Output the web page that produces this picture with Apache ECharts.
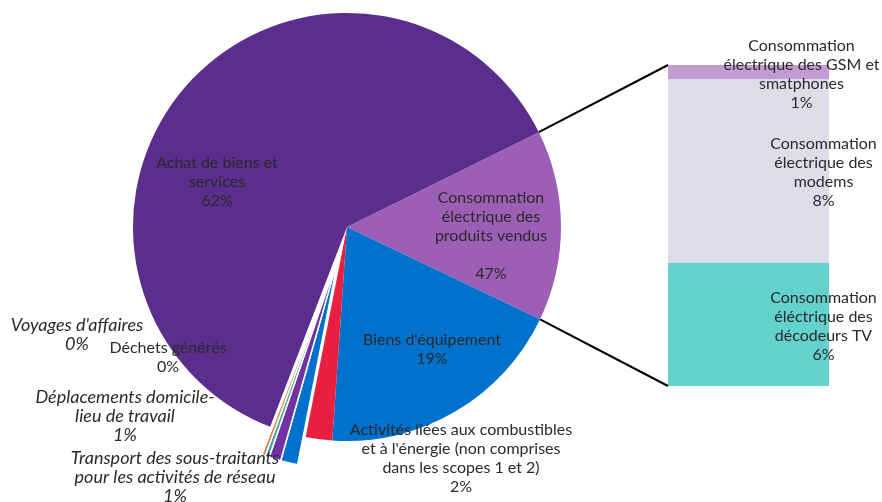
<!DOCTYPE html>
<html><head><meta charset="utf-8">
<script src="https://cdn.jsdelivr.net/npm/echarts@6/dist/echarts.min.js"></script>
<style>html,body{margin:0;padding:0;background:#fff}#c{width:882px;height:502px}</style>
</head><body><div id="c"></div>
<script>
// ---- data ----
const pieNames = [
  'Consommation électrique des produits vendus',
  "Biens d'équipement",
  "Activités liées aux combustibles et à l'énergie",
  'Transport des sous-traitants pour les activités de réseau',
  'Déplacements domicile-lieu de travail',
  'Déchets générés',
  "Voyages d'affaires",
  'Achat de biens et services'
];
const pieValues = [14.4, 19.0, 2.0, 1.3, 0.9, 0.3, 0.25, 61.85];
const pieLabels = [
  'Consommation\nélectrique des\nproduits vendus\n\n47%',
  "Biens d'équipement\n19%",
  "Activités liées aux combustibles\net à l'énergie (non comprises\ndans les scopes 1 et 2)\n2%",
  'Transport des sous-traitants\npour les activités de réseau\n1%',
  'Déplacements domicile-\nlieu de travail\n1%',
  'Déchets générés\n0%',
  "Voyages d'affaires\n0%",
  'Achat de biens et\nservices\n62%'
];
const pieItalic = [false, false, false, true, true, false, true, false];
const pieExploded = [false, false, false, true, true, true, true, false];

const barNames = ['Consommation électrique des décodeurs TV', 'Consommation électrique des modems', 'Consommation électrique des GSM et smatphones'];
const barValues = [5.75, 8.6, 0.65];
const barLabels = [
  'Consommation\néléctrique des\ndécodeurs TV\n6%',
  'Consommation\nélectrique des\nmodems\n8%',
  'Consommation\nélectrique des GSM et\nsmatphones\n1%'
];

// ---- style / layout ----
const pieColors = ['#9c5fb5', '#0072ce', '#e81f3f', '#0072ce', '#7232a3', '#3fa3ae', '#e07d36', '#5b2d8c'];
const barColors = ['#64d2cc', '#dfdcea', '#c39bd3'];
const labelPos = [[491, 236], [432, 349], [461, 458], [175, 477], [125, 416], [168, 357], [77, 335], [217, 182]];
const barLabelOffset = [[75, 2], [75, 1], [53, 2]];
const CX = 347, CY = 227, R = 214, START = 26.3, EXPLODE = 29;
const GRID = {left: 668, top: 65, width: 161, height: 321};
const FONT = 'Lato';
const TXT = '#2a2a2a';
const FS = 16, FS_IT = 18, LH = 19;
const NONE = 'rgba(0,0,0,0)';

const chart = echarts.init(document.getElementById('c'), null, {renderer: 'canvas'});
const barTotal = barValues.reduce((a, b) => a + b, 0);
const total = pieValues.reduce((a, b) => a + b, 0);

// direction of the exploded group (mid angle of the exploded slices)
let acc = 0, lo = null, hi = null;
pieValues.forEach((v, i) => {
  const s = acc, e = acc + v; acc = e;
  if (pieExploded[i]) { if (lo === null) lo = s; hi = e; }
});
const midDeg = START - ((lo + hi) / 2) / total * 360;
const mid = midDeg * Math.PI / 180;
const CX2 = CX + EXPLODE * Math.cos(mid), CY2 = CY - EXPLODE * Math.sin(mid);

const mainData = pieNames.map((n, i) => ({
  name: n,
  value: pieValues[i],
  itemStyle: {color: pieExploded[i] ? NONE : pieColors[i]},
  label: pieItalic[i]
    ? {formatter: pieLabels[i], fontStyle: 'italic', fontSize: FS_IT}
    : {formatter: pieLabels[i]}
}));
const explodedData = pieNames.map((n, i) => ({
  name: n,
  value: pieValues[i],
  itemStyle: pieExploded[i] ? {color: pieColors[i], borderColor: '#fff', borderWidth: 1.5} : {color: NONE}
}));

const barSeries = barNames.map((n, i) => ({
  type: 'bar',
  name: n,
  stack: 'c',
  barWidth: '100%',
  data: [barValues[i]],
  itemStyle: {color: barColors[i]},
  silent: true,
  label: {
    show: true, position: 'inside', formatter: barLabels[i],
    offset: barLabelOffset[i], color: TXT, fontFamily: FONT, fontSize: FS, lineHeight: LH, align: 'center'
  }
}));

chart.setOption({
  animation: false,
  grid: Object.assign({}, GRID),
  xAxis: {type: 'category', data: [''], show: false},
  yAxis: {type: 'value', min: 0, max: barTotal, show: false},
  series: [{
    type: 'pie',
    center: [CX2, CY2],
    radius: R,
    startAngle: START,
    clockwise: true,
    silent: true,
    z: 1,
    emphasis: {disabled: true},
    label: {show: false},
    labelLine: {show: false},
    data: explodedData
  }, {
    type: 'pie',
    center: [CX, CY],
    radius: R,
    startAngle: START,
    clockwise: true,
    silent: true,
    z: 2,
    emphasis: {disabled: true},
    avoidLabelOverlap: false,
    label: {show: true, position: 'inside', color: TXT, fontFamily: FONT, fontSize: FS, lineHeight: LH, align: 'center'},
    labelLine: {show: false},
    labelLayout: function (p) {
      const q = labelPos[p.dataIndex];
      return {x: q[0], y: q[1], align: 'center', verticalAlign: 'middle'};
    },
    data: mainData
  }].concat(barSeries)
});

// connector lines from the consumption slice edges to the bar's corners
const a1 = START * Math.PI / 180;
const a2 = (START - pieValues[0] / total * 360) * Math.PI / 180;
const p1 = [CX + R * Math.cos(a1), CY - R * Math.sin(a1)];
const p2 = [CX + R * Math.cos(a2), CY - R * Math.sin(a2)];
const yTop = chart.convertToPixel({yAxisIndex: 0}, barTotal);
const yBot = chart.convertToPixel({yAxisIndex: 0}, 0);
const xl = GRID.left;
chart.setOption({
  graphic: [
    {type: 'line', shape: {x1: p1[0], y1: p1[1], x2: xl, y2: yTop}, style: {stroke: '#000', lineWidth: 2}, z: 10},
    {type: 'line', shape: {x1: p2[0], y1: p2[1], x2: xl, y2: yBot}, style: {stroke: '#000', lineWidth: 2}, z: 10}
  ]
});
</script></body></html>
